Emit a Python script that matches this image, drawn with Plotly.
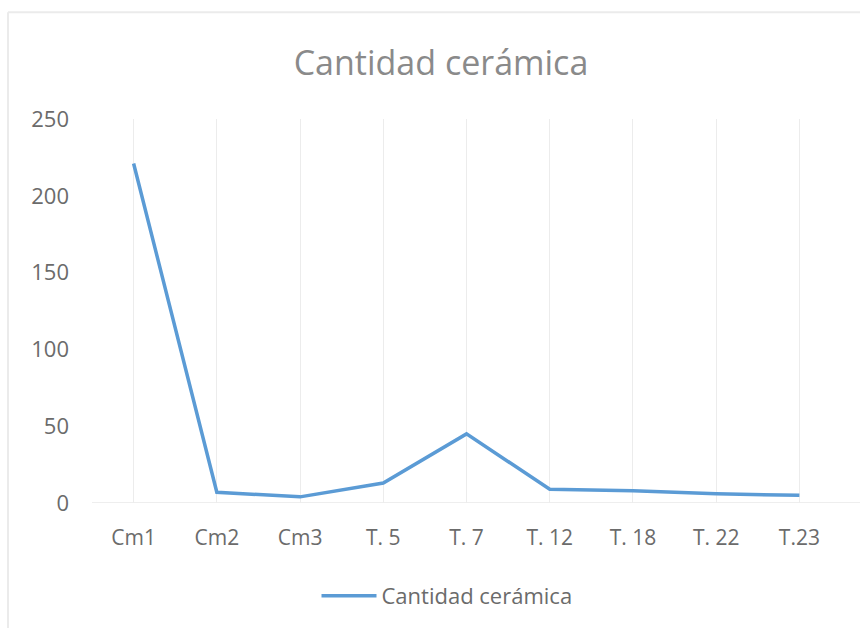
import plotly.graph_objects as go

categories = ["Cm1", "Cm2", "Cm3", "T. 5", "T. 7", "T. 12", "T. 18", "T. 22", "T.23"]
values = [221, 7, 4, 13, 45, 9, 8, 6, 5]
y_ticks = [0, 50, 100, 150, 200, 250]
series_name = "Cantidad cerámica"
title_text = "Cantidad cerámica"

FONT = "Open Sans"
L, R, T, B = 92, 19, 119, 124
W, H = 860, 628
pw, ph = W - L - R, H - T - B

fig = go.Figure()
fig.add_trace(go.Scatter(
    x=list(range(len(categories))), y=values, mode="lines", name=series_name,
    line=dict(color="#5B9BD5", width=3.5),
))

def px_x(p):
    return (p - L) / pw

def px_y(p):
    return (H - B - p) / ph

fig.update_layout(
    width=W, height=H,
    margin=dict(l=L, r=R, t=T, b=B),
    paper_bgcolor="white", plot_bgcolor="white",
    title=dict(text=title_text, x=441 / W, xanchor="center", y=1 - 63 / H, yanchor="middle",
               font=dict(family=FONT, size=34, color="#8a8a8a")),
    xaxis=dict(
        tickmode="array", tickvals=list(range(len(categories))), ticktext=categories,
        range=[-0.5, len(categories) - 0.5],
        showgrid=True, gridcolor="#ececec", gridwidth=1,
        showline=False, zeroline=False, ticks="", ticklabelstandoff=20,
        tickfont=dict(family=FONT, size=21, color="#6b6b6b"),
    ),
    yaxis=dict(
        range=[0, 250], tickvals=y_ticks, showgrid=False, zeroline=False,
        showline=False, ticks="", ticklabelstandoff=22,
        tickfont=dict(family=FONT, size=22, color="#6b6b6b"),
    ),
    showlegend=True,
    legend=dict(orientation="h", x=px_x(447), xanchor="center", y=px_y(596), yanchor="middle",
                font=dict(family=FONT, size=22, color="#6b6b6b"), itemwidth=55),
    shapes=[
        dict(type="line", xref="paper", yref="y", x0=px_x(92), x1=px_x(860), y0=0, y1=0,
             line=dict(color="#dcdcdc", width=1), layer="below"),
        dict(type="line", xref="paper", yref="paper", x0=px_x(8), x1=px_x(870), y0=px_y(12), y1=px_y(12),
             line=dict(color="#ebebeb", width=2)),
        dict(type="line", xref="paper", yref="paper", x0=px_x(8), x1=px_x(8), y0=px_y(12), y1=px_y(640),
             line=dict(color="#ebebeb", width=2)),
    ],
)

fig.write_html("out.html", config={"displayModeBar": False},
               post_script="document.body.style.margin='0';")
